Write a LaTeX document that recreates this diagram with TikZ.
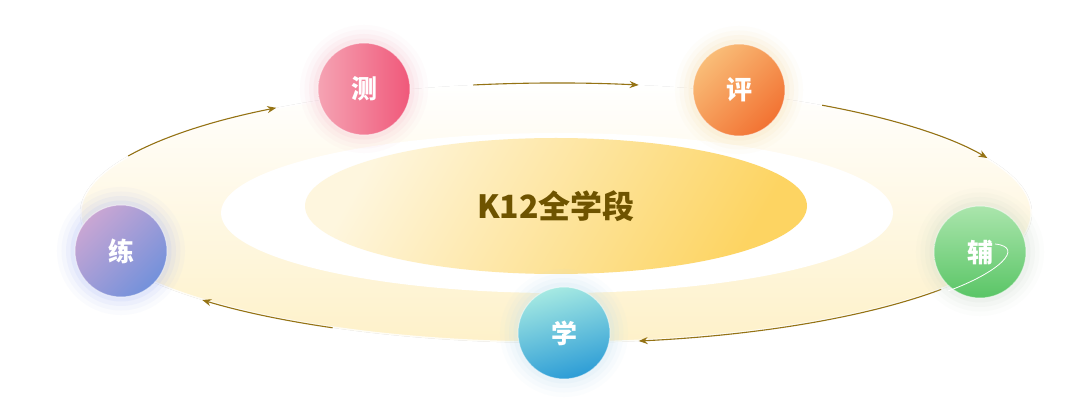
\documentclass[tikz,border=0pt]{standalone}
\usepackage{fontspec}
\newfontfamily\cjk{Noto Sans CJK SC}
\usepackage{tikz}
\usetikzlibrary{arrows.meta,calc,shapes.geometric}
\definecolor{ringyellow}{HTML}{FEF1C9}
\definecolor{coretop}{HTML}{FEF6DE}
\definecolor{corebot}{HTML}{FDD462}
\definecolor{coretext}{HTML}{6E5300}
\definecolor{flowgold}{HTML}{957314}
\definecolor{ceA}{HTML}{F5A3B3}
\definecolor{ceB}{HTML}{F0587A}
\definecolor{ceG}{HTML}{F9B9C6}
\definecolor{pingA}{HTML}{F9BD78}
\definecolor{pingB}{HTML}{F27232}
\definecolor{pingG}{HTML}{F9DCA4}
\definecolor{fuA}{HTML}{AAE5AC}
\definecolor{fuB}{HTML}{5AC566}
\definecolor{fuG}{HTML}{CBD9C9}
\definecolor{xueA}{HTML}{A5E9E2}
\definecolor{xueB}{HTML}{2C9CD6}
\definecolor{xueG}{HTML}{BFDFF2}
\definecolor{lianA}{HTML}{C9A6D3}
\definecolor{lianB}{HTML}{7391DB}
\definecolor{lianG}{HTML}{A8B9F7}

\begin{document}
\begin{tikzpicture}[x=1pt,y=1pt,
    ball/.style={circle, minimum size=92pt, inner sep=0pt, text=white,
      font=\cjk\bfseries\fontsize{26}{26}\selectfont,
      draw=white, draw opacity=0.5, line width=1pt,
      preaction={draw=#1, line width=36pt, draw opacity=0.05},
      preaction={draw=#1, line width=27pt, draw opacity=0.07},
      preaction={draw=#1, line width=18pt, draw opacity=0.10},
      preaction={draw=#1, line width=9pt, draw opacity=0.14}},
    flow/.style={draw=flowgold, line width=1.1pt, -{Stealth[length=9pt,width=7pt]}}]
    \useasboundingbox[fill=white] (0,0) rectangle (1080,402);
    \coordinate (ring) at (556,189);
    \fill[top color=white, middle color=ringyellow, bottom color=ringyellow]
        (ring) ellipse [x radius=476, y radius=130];
    \draw[white, line width=3pt, opacity=0.8] (ring) ellipse [x radius=476, y radius=130];
    \fill[white] ($(ring)+(1,0)$) ellipse [x radius=336, y radius=80];
    \node[ellipse, minimum width=502pt, minimum height=136pt, inner sep=0pt,
        top color=coretop, bottom color=corebot, shading angle=60,
        text=coretext, font=\cjk\bfseries\fontsize{32}{32}\selectfont]
        (core) at (556,196) {K12全学段};
    \draw[flow] ($(ring)+(154:476 and 130)$) arc [start angle=154, end angle=126, x radius=476, y radius=130];
    \draw[flow] ($(ring)+(100:476 and 130)$) arc [start angle=100, end angle=80, x radius=476, y radius=130];
    \draw[flow] ($(ring)+(56:476 and 130)$) arc [start angle=56, end angle=25, x radius=476, y radius=130];
    \draw[flow] ($(ring)+(-36:476 and 130)$) arc [start angle=-36, end angle=-80, x radius=476, y radius=130];
    \draw[flow] ($(ring)+(-118:476 and 130)$) arc [start angle=-118, end angle=-138, x radius=476, y radius=130];
    \node[ball=ceG, top color=ceA, bottom color=ceB, shading angle=90] (ce) at (364,313) {测};
    \node[ball=pingG, top color=pingA, bottom color=pingB, shading angle=45] (ping) at (739,312) {评};
    \node[ball=fuG, top color=fuA, bottom color=fuB] (fu) at (980,150) {辅};
    \node[ball=xueG, top color=xueA, bottom color=xueB, shading angle=15] (xue) at (564,69) {学};
    \node[ball=lianG, top color=lianA, bottom color=lianB, shading angle=45] (lian) at (121,151) {练};
    \draw[white, line width=0.8pt] ($(fu)+(-32,-39)$) .. controls ($(fu)+(20,-20)$) and ($(fu)+(45,5)$) .. ($(fu)+(15,8)$);
\end{tikzpicture}
\end{document}
